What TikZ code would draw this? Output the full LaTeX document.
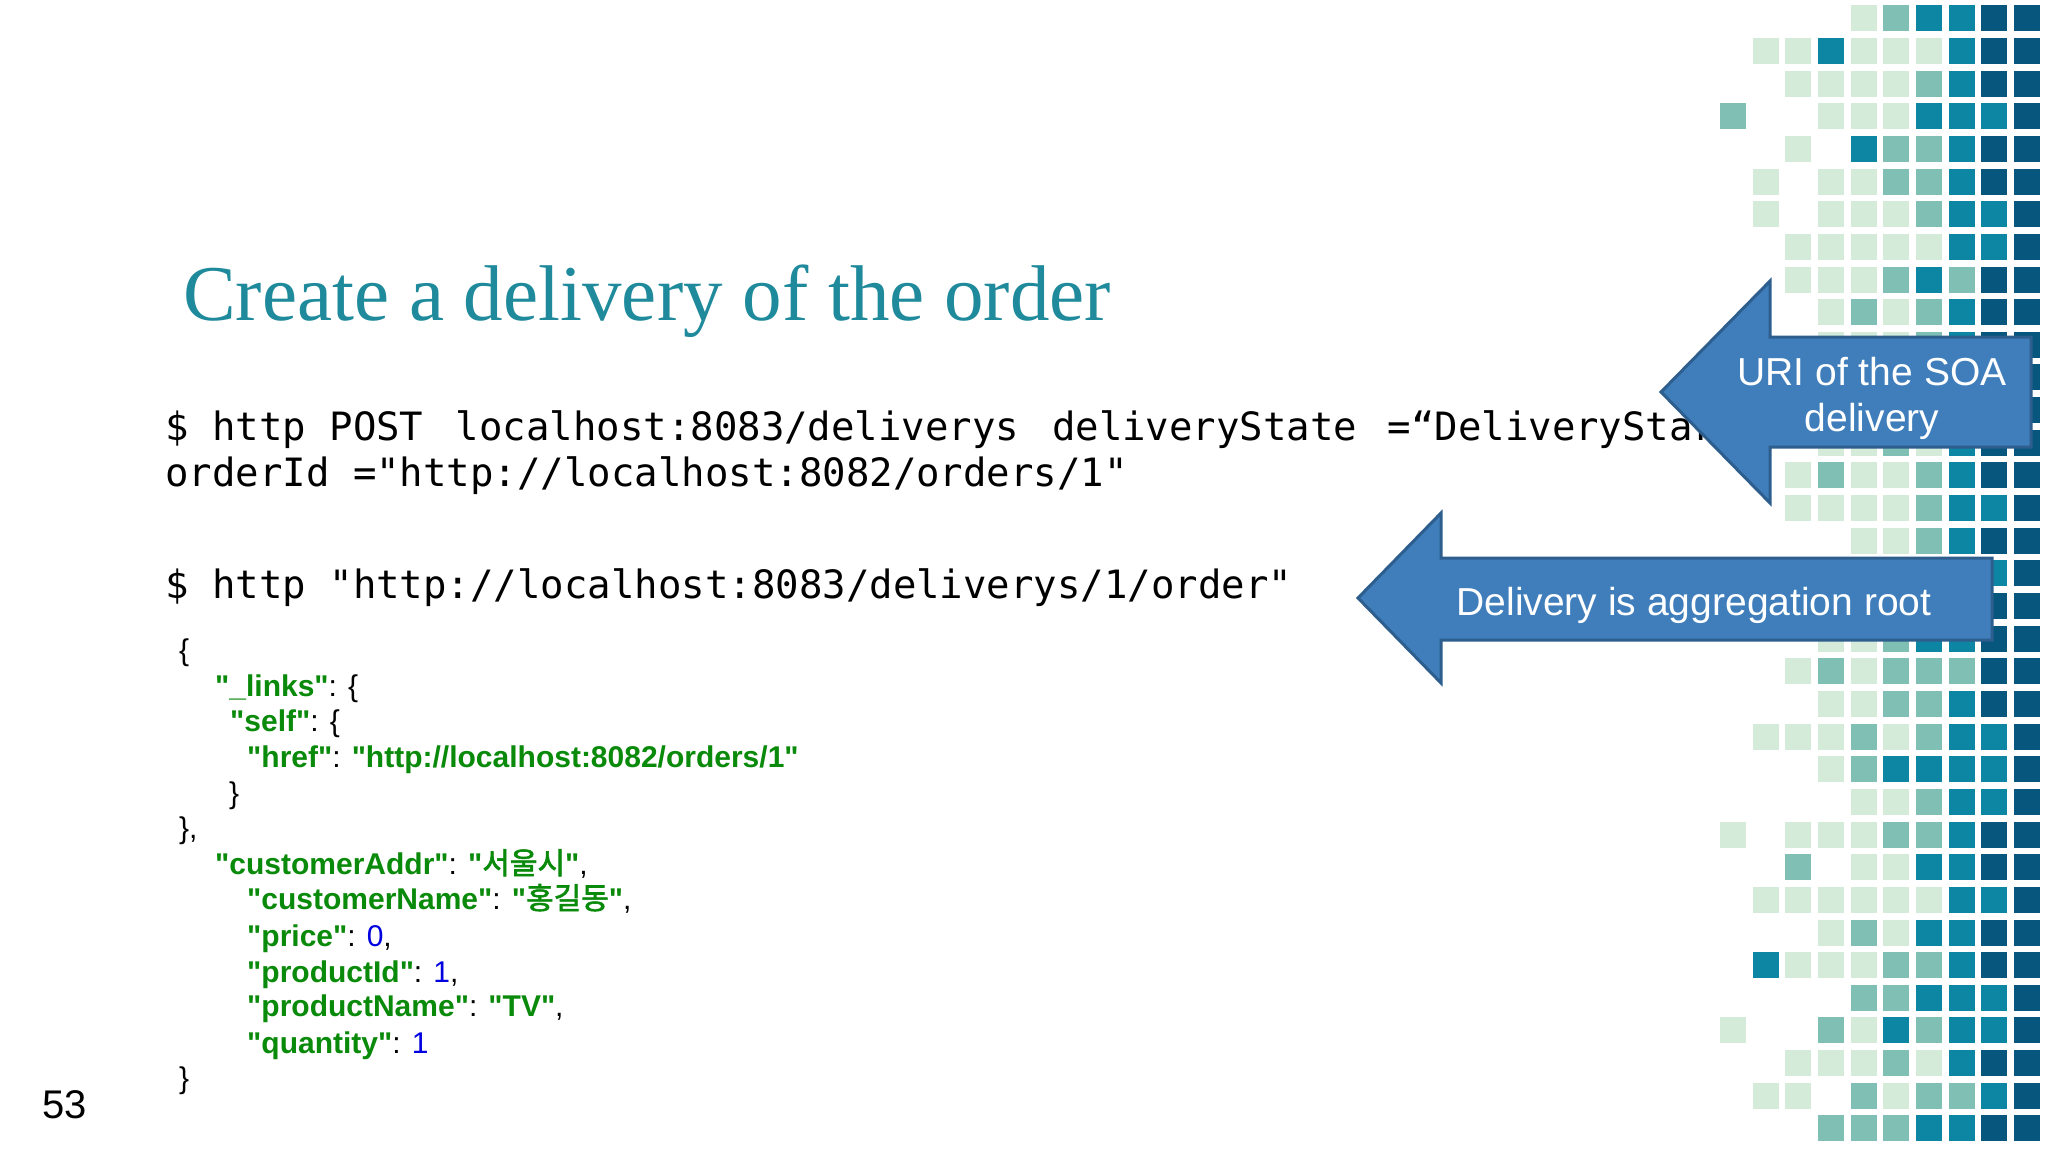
\documentclass[tikz,border=0pt]{standalone}
\usepackage{fontspec}
\setmainfont{Liberation Sans}[Ligatures=TeXOff]
\newfontfamily\monof{DejaVu Sans Mono}[Ligatures=TeXOff]
\newfontfamily\seriff{Liberation Serif}
\newfontfamily\krf{Noto Sans CJK KR}[AutoFakeBold=2,Ligatures=TeXOff]
\definecolor{cL}{HTML}{D3EBD8}
\definecolor{cM}{HTML}{80BFB4}
\definecolor{cT}{HTML}{0C86A2}
\definecolor{cD}{HTML}{06567E}
\definecolor{titlec}{HTML}{1E8A9B}
\definecolor{jgreen}{HTML}{0A8A0A}
\definecolor{jblue}{HTML}{0000E0}
\definecolor{arrowfill}{HTML}{3F7EBB}
\definecolor{arrowline}{HTML}{2D5E8E}
\newcommand\qq{\char34\relax}
\newcommand\jk[1]{\textcolor{jgreen}{\bfseries\qq #1\qq}}
\newcommand\jn[1]{\textcolor{jblue}{#1}}
\tikzset{
  code/.style={anchor=base west,inner sep=0pt,font=\monof\fontsize{39}{44}\selectfont},
  json/.style={anchor=base west,inner sep=0pt,font=\fontsize{30}{36}\selectfont},
  bigarrow/.style={fill=arrowfill,draw=arrowline,line width=3pt,line join=miter},
  arrowtext/.style={text=white,align=center,inner sep=0pt,font=\fontsize{39}{46}\selectfont},
}
\begin{document}
\begin{tikzpicture}[x=1pt,y=-1pt]
\useasboundingbox[fill=white] (0,0) rectangle (2048,1152);
% mosaic
\foreach \r/\cells in {
0/{4/L,5/M,6/T,7/T,8/D,9/D},
1/{1/L,2/L,3/T,4/L,5/L,6/L,7/T,8/D,9/D},
2/{2/L,3/L,4/L,5/L,6/M,7/T,8/D,9/D},
3/{0/M,3/L,4/L,5/L,6/T,7/T,8/T,9/D},
4/{2/L,4/T,5/M,6/M,7/T,8/D,9/D},
5/{1/L,3/L,4/L,5/M,6/M,7/T,8/D,9/D},
6/{1/L,3/L,4/L,5/L,6/M,7/T,8/T,9/D},
7/{2/L,3/L,4/L,5/L,6/L,7/T,8/T,9/D},
8/{2/L,3/L,4/L,5/M,6/T,7/M,8/D,9/D},
9/{3/L,4/M,5/L,6/M,7/T,8/D,9/D},
10/{3/L,4/L,5/L,6/M,7/T,8/D,9/D},
11/{4/L,5/M,6/L,7/T,8/D,9/D},
12/{3/L,4/L,5/L,6/L,7/T,8/T,9/D},
13/{3/L,4/L,5/M,6/L,7/T,8/D,9/D},
14/{2/L,3/M,4/L,5/L,6/M,7/T,8/D,9/D},
15/{2/L,3/L,4/L,5/L,6/M,7/T,8/T,9/D},
16/{4/L,5/L,6/M,7/T,8/D,9/D},
17/{5/L,6/M,7/T,8/T,9/D},
18/{4/L,5/L,6/T,7/T,8/D,9/D},
19/{3/L,4/L,5/M,6/T,7/T,8/D,9/D},
20/{2/L,3/M,4/L,5/M,6/M,7/M,8/D,9/D},
21/{3/L,4/L,5/M,6/M,7/T,8/D,9/D},
22/{1/L,2/L,3/L,4/M,5/L,6/M,7/T,8/T,9/D},
23/{3/L,4/M,5/T,6/T,7/T,8/T,9/D},
24/{4/L,5/L,6/M,7/T,8/T,9/D},
25/{0/L,2/L,3/L,4/L,5/M,6/M,7/T,8/D,9/D},
26/{2/M,4/L,5/L,6/T,7/T,8/D,9/D},
27/{1/L,2/L,3/L,4/L,5/L,6/L,7/T,8/T,9/D},
28/{3/L,4/M,5/L,6/T,7/T,8/D,9/D},
29/{1/T,2/L,3/L,4/L,5/M,6/M,7/T,8/D,9/D},
30/{4/M,5/M,6/T,7/T,8/T,9/D},
31/{0/L,3/M,4/L,5/T,6/M,7/T,8/T,9/D},
32/{2/L,3/L,4/L,5/M,6/L,7/T,8/D,9/D},
33/{1/L,2/L,4/M,5/L,6/M,7/M,8/T,9/D},
34/{3/M,4/M,5/M,6/T,7/T,8/D,9/D}}{
  \foreach \c/\k in \cells {
    \fill[c\k] ({1733+32.65*\c-13},{18.3+32.65*\r-13}) rectangle ++(26,26);
  }
}
% title
\node[anchor=base west,inner sep=0pt,text=titlec,font=\seriff\fontsize{79}{90}\selectfont] (title) at (183,320) {Create a delivery of the order};
% code
\node[code] (c1) at (165,440) {\$ http POST\hspace{0.83em}localhost:8083/deliverys\hspace{0.84em}deliveryState\hspace{0.78em}=“DeliveryStarted”};
\node[code] (c2) at (165,486) {orderId =\qq http://localhost:8082/orders/1\qq};
\node[code] (c3) at (165,598) {\$ http \qq http://localhost:8083/deliverys/1/order\qq};
% json
\node[json] (j1) at (179,660) {\{};
\node[json] (j2) at (215,696) {\jk{\_links}: \{};
\node[json] (j3) at (230,731) {\jk{self}: \{};
\node[json] (j4) at (247,767) {\jk{href}: \jk{http://localhost:8082/orders/1}};
\node[json] (j5) at (229,803) {\}};
\node[json] (j6) at (179,838) {\},};
\node[json] (j7) at (215,874) {\jk{customerAddr}: \jk{{\krf 서울시}},};
\node[json] (j8) at (247,909) {\jk{customerName}: \jk{{\krf 홍길동}},};
\node[json] (j9) at (247,946) {\jk{price}: \jn{0},};
\node[json] (j10) at (247,982) {\jk{productId}: \jn{1},};
\node[json] (j11) at (247,1016) {\jk{productName}: \jk{TV},};
\node[json] (j12) at (247,1053) {\jk{quantity}: \jn{1}};
\node[json] (j13) at (179,1088) {\}};
% page number
\node[anchor=base west,inner sep=0pt,font=\fontsize{40}{46}\selectfont] (pg) at (42,1118) {53};
% arrows
\draw[bigarrow] (1661,392) -- (1770,281) -- (1770,337) -- (2031,337) -- (2031,447) -- (1770,447) -- (1770,503) -- cycle;
\node[arrowtext] (a1) at (1872,398) {URI of the SOA\\delivery};
\draw[bigarrow] (1358,598) -- (1441,513) -- (1441,558) -- (1992,558) -- (1992,640) -- (1441,640) -- (1441,683) -- cycle;
\node[arrowtext] (a2) at (1694,605) {Delivery is aggregation root};
\end{tikzpicture}
\end{document}
